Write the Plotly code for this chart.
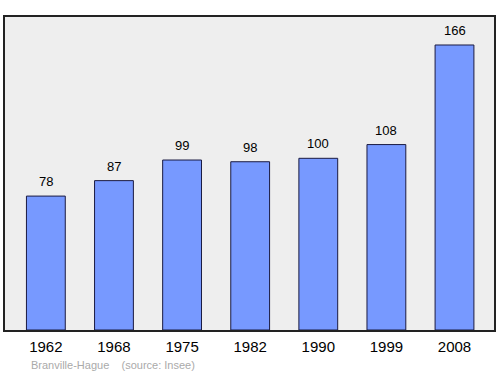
import plotly.graph_objects as go

years = ["1962", "1968", "1975", "1982", "1990", "1999", "2008"]
population = [78, 87, 99, 98, 100, 108, 166]

fig = go.Figure()
fig.add_trace(go.Bar(
    x=list(range(len(years))), y=population, width=0.57,
    marker=dict(color="#7799ff", line=dict(color="#1a1a40", width=1)),
    hoverinfo="skip",
))
for i, v in enumerate(population):
    fig.add_annotation(x=i, y=v, text=str(v), showarrow=False, yanchor="bottom",
                       yshift=5, font=dict(family="Liberation Sans, Arial", size=13, color="#000"))

fig.add_annotation(xref="paper", yref="paper", x=0.05, y=-0.112, xanchor="left", yanchor="middle",
                   text="Branville-Hague&nbsp;&nbsp;&nbsp;&nbsp;(source: Insee)", showarrow=False,
                   font=dict(family="Liberation Sans, Arial", size=11, color="#aaaaaa"))

fig.update_layout(
    width=500, height=374,
    margin=dict(l=5, r=4, t=17, b=44),
    paper_bgcolor="white", plot_bgcolor="#eeeeee",
    showlegend=False,
    xaxis=dict(range=[-0.6, 6.58], tickmode="array", tickvals=list(range(len(years))), ticktext=years,
               showgrid=False, zeroline=False, showline=True, linecolor="#222", linewidth=1.5, mirror=True,
               ticks="outside", ticklen=2, tickcolor="rgba(0,0,0,0)",
               tickfont=dict(family="Liberation Sans, Arial", size=15, color="#000"), fixedrange=True),
    yaxis=dict(range=[0, 182.3], showgrid=False, zeroline=False, showticklabels=False,
               showline=True, linecolor="#222", linewidth=1.5, mirror=True, fixedrange=True),
)
fig.write_html("out.html")
